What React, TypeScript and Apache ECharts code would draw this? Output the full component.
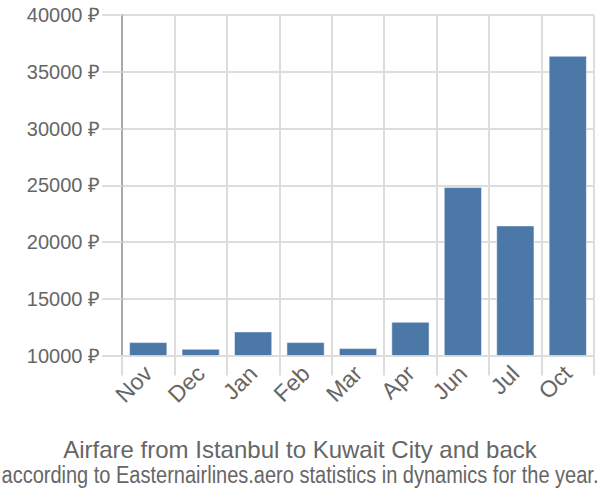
import React, { useEffect, useRef } from "react";
import * as echarts from "echarts";

const categories = ["Nov", "Dec", "Jan", "Feb", "Mar", "Apr", "Jun", "Jul", "Oct"];
const prices = [11160, 10570, 12100, 11160, 10630, 12950, 24820, 21440, 36390];
const yTicks = { min: 10000, max: 40000, interval: 5000 };
const titleText = "Airfare from Istanbul to Kuwait City and back";
const subtitleText = "according to Easternairlines.aero statistics in dynamics for the year.";

export default function App() {
  const ref = useRef<HTMLDivElement>(null);
  useEffect(() => {
    const chart = echarts.init(ref.current!, null, { renderer: "svg" });
    const font = "'Liberation Sans', Arial, sans-serif";
    chart.setOption({
      animation: false,
      textStyle: { fontFamily: font },
      grid: { left: 122, right: 6, top: 15, bottom: 144.5, containLabel: false },
      title: [
        {
          text: titleText,
          left: "center",
          top: 432,
          textStyle: { fontFamily: font, fontSize: 24, fontWeight: "normal", color: "#666" },
        },
      ],
      graphic: [
        {
          type: "text",
          x: 300,
          y: 475,
          scaleX: 0.87,
          style: {
            text: subtitleText,
            fontFamily: font,
            fontSize: 23,
            fill: "#666",
            align: "center",
            verticalAlign: "middle",
          },
        },
      ],
      xAxis: {
        type: "category",
        data: categories,
        axisLine: { lineStyle: { color: "#ddd", width: 2 } },
        axisTick: { show: true, length: 20, lineStyle: { color: "#ddd", width: 2 } },
        splitLine: { show: true, lineStyle: { color: "#ddd", width: 2 } },
        axisLabel: { rotate: 45, fontSize: 23, color: "#666", margin: 14, fontFamily: font },
      },
      yAxis: {
        type: "value",
        min: yTicks.min,
        max: yTicks.max,
        interval: yTicks.interval,
        axisLine: { show: true, lineStyle: { color: "#aaa", width: 2 } },
        axisTick: { show: true, length: 20, lineStyle: { color: "#ddd", width: 2 } },
        splitLine: { show: true, lineStyle: { color: "#ddd", width: 2 } },
        axisLabel: {
          fontSize: 20,
          color: "#666",
          margin: 22,
          fontFamily: font,
          formatter: (v: number) => `${v} ₽`,
        },
      },
      series: [
        {
          type: "bar",
          data: prices,
          barCategoryGap: "28%",
          itemStyle: { color: "#4c78a8", borderColor: "#ffffff", borderWidth: 0.5 },
        },
      ],
    });
    return () => chart.dispose();
  }, []);
  return <div ref={ref} style={{ width: 600, height: 500, position: "absolute", left: 0, top: 0 }} />;
}
